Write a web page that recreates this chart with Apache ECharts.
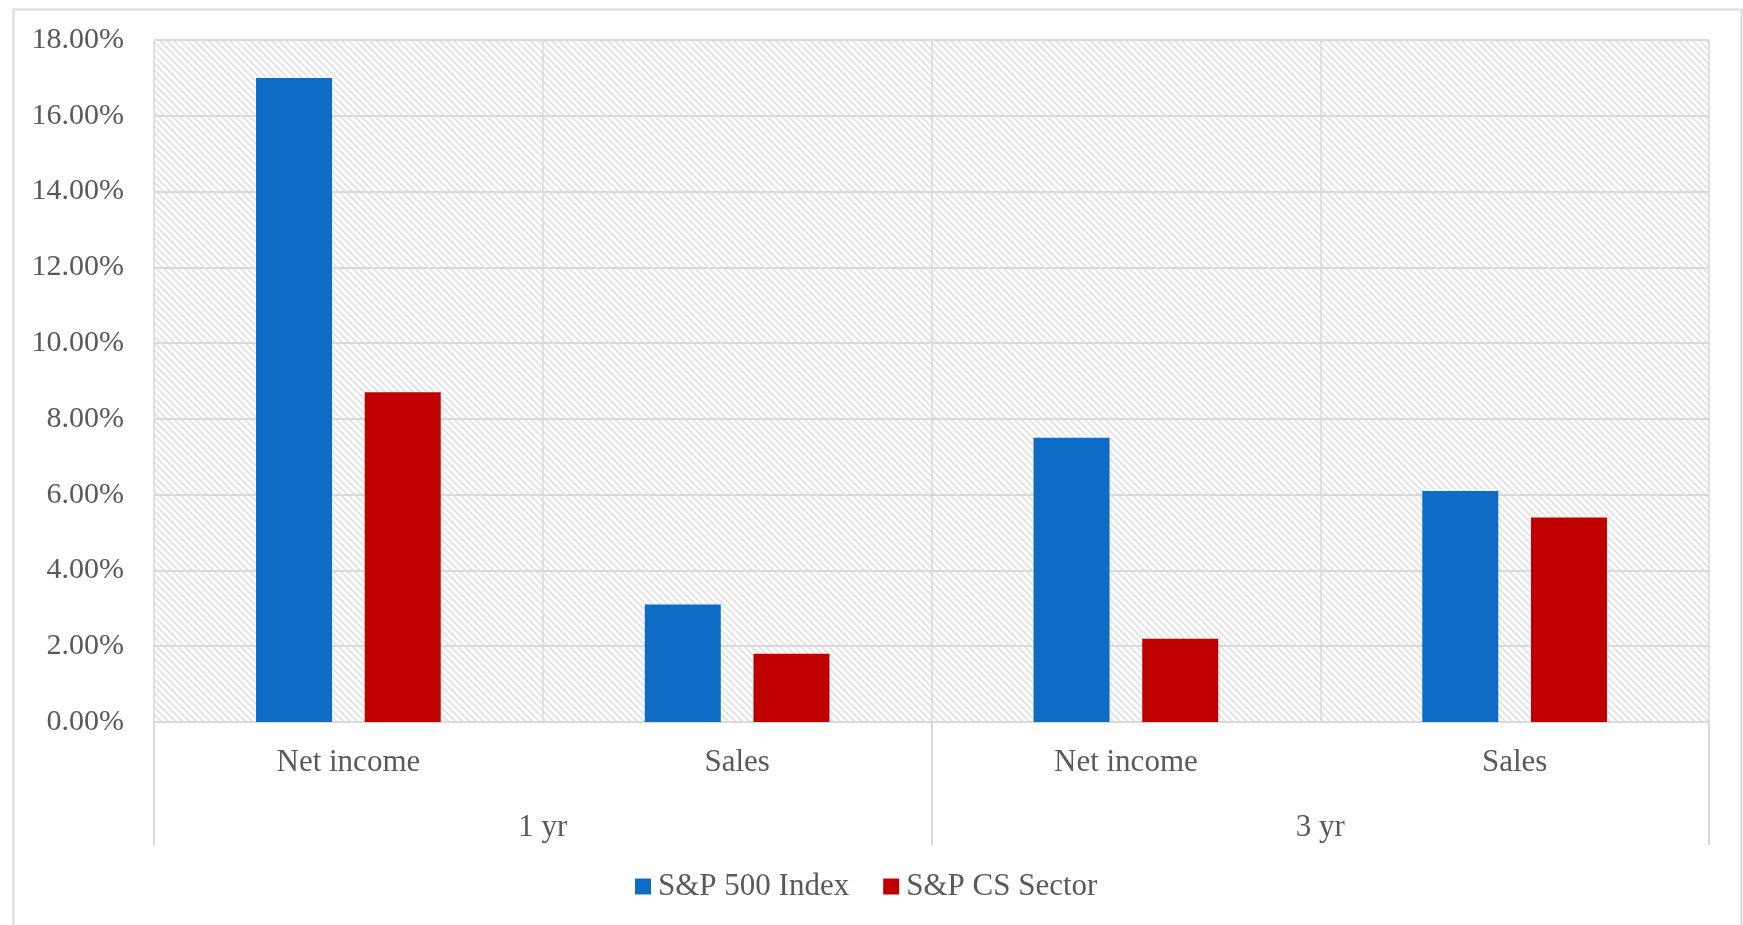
<!DOCTYPE html>
<html>
<head>
<meta charset="utf-8">
<script src="https://cdn.jsdelivr.net/npm/echarts@6/dist/echarts.min.js"></script>
<style>
html,body{margin:0;padding:0;background:#fff;}
#chart{width:1743px;height:925px;}
</style>
</head>
<body>
<div id="chart"></div>
<script>
const categories = ['Net income', 'Sales', 'Net income', 'Sales'];
const groups = ['1 yr', '3 yr'];
const seriesNames = ['S&P 500 Index', 'S&P CS Sector'];
const sp500 = [17.0, 3.1, 7.5, 6.1];
const csSector = [8.7, 1.8, 2.2, 5.4];
const yTicks = [0, 2, 4, 6, 8, 10, 12, 14, 16, 18];

// hatch pattern
const T = 7;
const tile = document.createElement('canvas');
tile.width = T; tile.height = T;
const c = tile.getContext('2d');
c.fillStyle = '#ffffff';
c.fillRect(0, 0, T, T);
c.strokeStyle = '#e4e4e4';
c.lineWidth = 2;
for (let k = -T; k <= T; k += T) {
  c.beginPath();
  c.moveTo(k - 2, -2);
  c.lineTo(k + T + 2, T + 2);
  c.stroke();
}

const font = 'Liberation Serif';
const txt = '#595959';
const grid = '#d9d9d9';

const chart = echarts.init(document.getElementById('chart'));
chart.setOption({
  animation: false,
  backgroundColor: '#ffffff',
  textStyle: { fontFamily: font },
  graphic: [{
    type: 'rect', left: 11, top: 7, silent: true, z: -10,
    shape: { width: 1728, height: 960 },
    style: { fill: 'none', stroke: grid, lineWidth: 2 }
  }],
  grid: {
    left: 154, top: 40, right: 34, bottom: 203,
    show: true,
    backgroundColor: { image: tile, repeat: 'repeat' },
    borderWidth: 0
  },
  legend: {
    bottom: 18,
    left: 630,
    icon: 'rect',
    itemWidth: 16, itemHeight: 16,
    itemGap: 34,
    textStyle: { fontFamily: font, fontSize: 31, color: txt, padding: [0, 0, 0, 2] },
    data: seriesNames
  },
  xAxis: [{
    type: 'category',
    data: categories,
    position: 'bottom',
    axisLine: { show: true, lineStyle: { color: grid, width: 2 } },
    axisTick: { show: false },
    axisLabel: { fontFamily: font, fontSize: 31, color: txt, margin: 25 },
    splitLine: { show: true, lineStyle: { color: grid, width: 1.5 } }
  }, {
    type: 'category',
    data: groups,
    position: 'bottom',
    axisLine: { show: false },
    axisTick: { show: true, length: 123, lineStyle: { color: grid, width: 2 } },
    axisLabel: { fontFamily: font, fontSize: 31, color: txt, margin: 90 },
    splitLine: { show: false }
  }],
  yAxis: {
    type: 'value',
    min: yTicks[0],
    max: yTicks[yTicks.length - 1],
    interval: yTicks[1] - yTicks[0],
    axisLine: { show: false },
    axisTick: { show: false },
    axisLabel: {
      fontFamily: font, fontSize: 30, color: txt, margin: 30,
      formatter: v => v.toFixed(2) + '%'
    },
    splitLine: { show: true, lineStyle: { color: grid, width: 2 } }
  },
  series: [{
    name: seriesNames[0],
    type: 'bar',
    xAxisIndex: 0,
    data: sp500,
    barWidth: 76,
    barGap: '43%',
    itemStyle: { color: '#0f6cc6' }
  }, {
    name: seriesNames[1],
    type: 'bar',
    xAxisIndex: 0,
    data: csSector,
    barWidth: 76,
    barGap: '43%',
    itemStyle: { color: '#c00000' }
  }]
});
</script>
</body>
</html>
